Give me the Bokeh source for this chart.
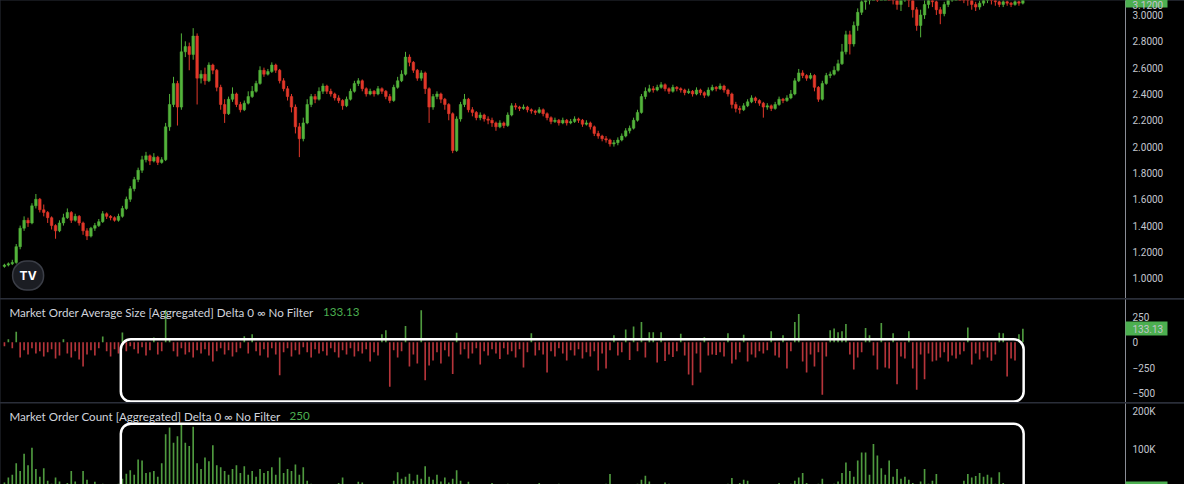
from bokeh.plotting import figure
from bokeh.layouts import column
from bokeh.models import (Range1d, FixedTicker, Label, BoxAnnotation,
                          ColumnDataSource)
from bokeh.embed import file_html
from bokeh.resources import INLINE

# ---------------- data ----------------
OPEN = [
    1.09, 1.10, 1.11, 1.12, 1.24, 1.38, 1.44, 1.42, 1.55, 1.60,
    1.52, 1.50, 1.46, 1.40, 1.36, 1.42, 1.46, 1.50, 1.44, 1.47,
    1.42, 1.36, 1.32, 1.38, 1.40, 1.43, 1.49, 1.47, 1.46, 1.44,
    1.47, 1.53, 1.60, 1.68, 1.75, 1.82, 1.90, 1.93, 1.89, 1.92,
    1.88, 1.90, 2.15, 2.32, 2.48, 2.30, 2.72, 2.76, 2.70, 2.84,
    2.52, 2.55, 2.50, 2.62, 2.58, 2.45, 2.32, 2.25, 2.36, 2.40,
    2.32, 2.28, 2.33, 2.38, 2.42, 2.48, 2.58, 2.55, 2.57, 2.62,
    2.58, 2.50, 2.44, 2.38, 2.30, 2.15, 2.06, 2.18, 2.32, 2.38,
    2.36, 2.42, 2.46, 2.42, 2.40, 2.37, 2.35, 2.31, 2.36, 2.42,
    2.48, 2.50, 2.44, 2.40, 2.42, 2.40, 2.44, 2.42, 2.38, 2.35,
    2.45, 2.50, 2.55, 2.68, 2.64, 2.58, 2.52, 2.56, 2.44, 2.30,
    2.38, 2.40, 2.36, 2.32, 2.25, 1.97, 2.21, 2.32, 2.36, 2.28,
    2.26, 2.22, 2.24, 2.21, 2.20, 2.18, 2.15, 2.18, 2.16, 2.24,
    2.31, 2.30, 2.29, 2.30, 2.28, 2.27, 2.26, 2.28, 2.25, 2.22,
    2.19, 2.20, 2.18, 2.20, 2.18, 2.19, 2.21, 2.20, 2.17, 2.18,
    2.15, 2.10, 2.08, 2.06, 2.05, 2.02, 2.03, 2.05, 2.08, 2.12,
    2.14, 2.20, 2.26, 2.38, 2.42, 2.44, 2.43, 2.45, 2.47, 2.44,
    2.42, 2.45, 2.44, 2.43, 2.41, 2.42, 2.40, 2.43, 2.41, 2.39,
    2.43, 2.45, 2.44, 2.46, 2.43, 2.40, 2.32, 2.29, 2.28, 2.31,
    2.34, 2.37, 2.35, 2.33, 2.30, 2.31, 2.29, 2.32, 2.36, 2.35,
    2.37, 2.40, 2.50, 2.56, 2.54, 2.52, 2.54, 2.45, 2.36, 2.48,
    2.54, 2.55, 2.58, 2.63, 2.72, 2.85, 2.78, 2.92, 3.02, 3.10,
    3.14, 3.18, 3.20, 3.16, 3.19, 3.22, 3.18, 3.15, 3.08, 3.14,
    3.20, 3.14, 3.04, 2.92, 3.00, 3.08, 3.12, 3.10, 3.04, 3.01,
    3.08, 3.12, 3.15, 3.18, 3.16, 3.14, 3.12, 3.08, 3.06, 3.09,
    3.12, 3.14, 3.12, 3.10, 3.08, 3.10, 3.09, 3.08, 3.10, 3.09,
]
HIGH = [
    1.11, 1.12, 1.14, 1.26, 1.40, 1.47, 1.46, 1.57, 1.64, 1.61,
    1.56, 1.51, 1.47, 1.41, 1.44, 1.49, 1.53, 1.51, 1.49, 1.48,
    1.43, 1.38, 1.39, 1.42, 1.45, 1.51, 1.50, 1.48, 1.47, 1.49,
    1.55, 1.62, 1.70, 1.77, 1.84, 1.93, 1.96, 1.94, 1.95, 1.93,
    1.92, 2.18, 2.40, 2.53, 2.50, 2.86, 2.80, 2.79, 2.90, 2.86,
    2.58, 2.60, 2.64, 2.63, 2.59, 2.47, 2.36, 2.38, 2.45, 2.41,
    2.34, 2.35, 2.42, 2.46, 2.50, 2.61, 2.60, 2.59, 2.64, 2.63,
    2.59, 2.52, 2.46, 2.40, 2.32, 2.18, 2.22, 2.36, 2.40, 2.40,
    2.45, 2.48, 2.47, 2.44, 2.41, 2.39, 2.36, 2.38, 2.44, 2.50,
    2.52, 2.51, 2.45, 2.44, 2.43, 2.46, 2.45, 2.43, 2.40, 2.47,
    2.53, 2.58, 2.72, 2.70, 2.65, 2.59, 2.58, 2.57, 2.45, 2.40,
    2.42, 2.41, 2.37, 2.33, 2.26, 2.23, 2.34, 2.40, 2.37, 2.30,
    2.27, 2.26, 2.25, 2.23, 2.22, 2.19, 2.20, 2.19, 2.26, 2.33,
    2.33, 2.31, 2.32, 2.31, 2.29, 2.28, 2.30, 2.29, 2.26, 2.23,
    2.22, 2.21, 2.22, 2.21, 2.21, 2.23, 2.22, 2.21, 2.20, 2.19,
    2.16, 2.12, 2.09, 2.08, 2.06, 2.05, 2.07, 2.10, 2.14, 2.16,
    2.22, 2.28, 2.40, 2.45, 2.47, 2.46, 2.47, 2.49, 2.48, 2.45,
    2.47, 2.46, 2.45, 2.44, 2.44, 2.43, 2.45, 2.44, 2.42, 2.45,
    2.47, 2.46, 2.48, 2.47, 2.44, 2.41, 2.34, 2.31, 2.33, 2.36,
    2.39, 2.38, 2.36, 2.34, 2.33, 2.32, 2.34, 2.38, 2.37, 2.39,
    2.43, 2.52, 2.59, 2.58, 2.55, 2.56, 2.55, 2.46, 2.50, 2.56,
    2.57, 2.61, 2.66, 2.78, 2.88, 2.88, 2.95, 3.05, 3.14, 3.18,
    3.22, 3.24, 3.22, 3.22, 3.25, 3.24, 3.20, 3.16, 3.17, 3.22,
    3.21, 3.15, 3.06, 3.04, 3.12, 3.15, 3.14, 3.11, 3.06, 3.10,
    3.15, 3.18, 3.21, 3.20, 3.18, 3.16, 3.13, 3.10, 3.11, 3.14,
    3.17, 3.15, 3.13, 3.11, 3.12, 3.11, 3.10, 3.12, 3.11, 3.14,
]
LOW = [
    1.08, 1.09, 1.10, 1.11, 1.22, 1.36, 1.39, 1.41, 1.53, 1.50,
    1.47, 1.42, 1.37, 1.30, 1.35, 1.40, 1.45, 1.42, 1.43, 1.40,
    1.33, 1.29, 1.31, 1.36, 1.39, 1.42, 1.45, 1.44, 1.43, 1.43,
    1.46, 1.52, 1.58, 1.66, 1.73, 1.80, 1.88, 1.86, 1.88, 1.86,
    1.87, 1.89, 2.12, 2.30, 2.16, 2.28, 2.68, 2.58, 2.66, 2.32,
    2.48, 2.47, 2.49, 2.55, 2.42, 2.28, 2.18, 2.24, 2.34, 2.30,
    2.26, 2.27, 2.32, 2.37, 2.41, 2.47, 2.53, 2.54, 2.56, 2.56,
    2.48, 2.42, 2.35, 2.26, 2.10, 1.92, 2.04, 2.17, 2.30, 2.33,
    2.35, 2.40, 2.40, 2.38, 2.35, 2.33, 2.28, 2.30, 2.35, 2.41,
    2.46, 2.42, 2.38, 2.39, 2.38, 2.39, 2.40, 2.36, 2.33, 2.34,
    2.44, 2.49, 2.54, 2.61, 2.56, 2.50, 2.50, 2.40, 2.18, 2.28,
    2.36, 2.33, 2.28, 2.20, 1.95, 1.96, 2.19, 2.30, 2.26, 2.23,
    2.20, 2.20, 2.19, 2.17, 2.15, 2.12, 2.14, 2.14, 2.15, 2.23,
    2.28, 2.27, 2.28, 2.26, 2.25, 2.24, 2.25, 2.23, 2.20, 2.17,
    2.18, 2.16, 2.17, 2.16, 2.17, 2.18, 2.18, 2.15, 2.16, 2.13,
    2.08, 2.06, 2.04, 2.03, 2.00, 2.00, 2.01, 2.04, 2.07, 2.10,
    2.13, 2.19, 2.25, 2.36, 2.41, 2.41, 2.42, 2.44, 2.42, 2.40,
    2.41, 2.42, 2.41, 2.39, 2.40, 2.38, 2.39, 2.39, 2.37, 2.38,
    2.42, 2.42, 2.43, 2.41, 2.38, 2.29, 2.26, 2.25, 2.27, 2.30,
    2.33, 2.33, 2.31, 2.22, 2.28, 2.27, 2.28, 2.31, 2.33, 2.34,
    2.36, 2.39, 2.49, 2.52, 2.50, 2.51, 2.42, 2.34, 2.35, 2.47,
    2.52, 2.54, 2.57, 2.62, 2.70, 2.70, 2.76, 2.88, 3.00, 3.04,
    3.08, 3.12, 3.10, 3.12, 3.15, 3.12, 3.08, 3.04, 3.03, 3.10,
    3.06, 2.98, 2.88, 2.83, 2.97, 3.05, 3.06, 3.00, 2.93, 2.99,
    3.06, 3.10, 3.12, 3.11, 3.09, 3.07, 3.04, 3.03, 3.04, 3.07,
    3.09, 3.08, 3.07, 3.06, 3.06, 3.07, 3.06, 3.07, 3.07, 3.08,
]
CLOSE = [
    1.10, 1.11, 1.12, 1.24, 1.38, 1.44, 1.42, 1.55, 1.60, 1.52,
    1.50, 1.46, 1.40, 1.36, 1.42, 1.46, 1.50, 1.44, 1.47, 1.42,
    1.36, 1.32, 1.38, 1.40, 1.43, 1.49, 1.47, 1.46, 1.44, 1.47,
    1.53, 1.60, 1.68, 1.75, 1.82, 1.90, 1.93, 1.89, 1.92, 1.88,
    1.90, 2.15, 2.32, 2.48, 2.30, 2.72, 2.76, 2.70, 2.84, 2.52,
    2.55, 2.50, 2.62, 2.58, 2.45, 2.32, 2.25, 2.36, 2.40, 2.32,
    2.28, 2.33, 2.38, 2.42, 2.48, 2.58, 2.55, 2.57, 2.62, 2.58,
    2.50, 2.44, 2.38, 2.30, 2.15, 2.06, 2.18, 2.32, 2.38, 2.36,
    2.42, 2.46, 2.42, 2.40, 2.37, 2.35, 2.31, 2.36, 2.42, 2.48,
    2.50, 2.44, 2.40, 2.42, 2.40, 2.44, 2.42, 2.38, 2.35, 2.45,
    2.50, 2.55, 2.68, 2.64, 2.58, 2.52, 2.56, 2.44, 2.30, 2.38,
    2.40, 2.36, 2.32, 2.25, 1.97, 2.21, 2.32, 2.36, 2.28, 2.26,
    2.22, 2.24, 2.21, 2.20, 2.18, 2.15, 2.18, 2.16, 2.24, 2.31,
    2.30, 2.29, 2.30, 2.28, 2.27, 2.26, 2.28, 2.25, 2.22, 2.19,
    2.20, 2.18, 2.20, 2.18, 2.19, 2.21, 2.20, 2.17, 2.18, 2.15,
    2.10, 2.08, 2.06, 2.05, 2.02, 2.03, 2.05, 2.08, 2.12, 2.14,
    2.20, 2.26, 2.38, 2.42, 2.44, 2.43, 2.45, 2.47, 2.44, 2.42,
    2.45, 2.44, 2.43, 2.41, 2.42, 2.40, 2.43, 2.41, 2.39, 2.43,
    2.45, 2.44, 2.46, 2.43, 2.40, 2.32, 2.29, 2.28, 2.31, 2.34,
    2.37, 2.35, 2.33, 2.30, 2.31, 2.29, 2.32, 2.36, 2.35, 2.37,
    2.40, 2.50, 2.56, 2.54, 2.52, 2.54, 2.45, 2.36, 2.48, 2.54,
    2.55, 2.58, 2.63, 2.72, 2.85, 2.78, 2.92, 3.02, 3.10, 3.14,
    3.18, 3.20, 3.16, 3.19, 3.22, 3.18, 3.15, 3.08, 3.14, 3.20,
    3.14, 3.04, 2.92, 3.00, 3.08, 3.12, 3.10, 3.04, 3.01, 3.08,
    3.12, 3.15, 3.18, 3.16, 3.14, 3.12, 3.08, 3.06, 3.09, 3.12,
    3.14, 3.12, 3.10, 3.08, 3.10, 3.09, 3.08, 3.10, 3.09, 3.12,
]
AVG_SIZE = [
    -40, 30, -60, 105, -150, -80, -120, -60, -110, -90,
    -140, -100, -70, -160, -130, 30, -110, -150, -90, -170,
    -240, -120, -80, -130, -60, 58, -90, -140, -70, -110,
    96, -90, -40, -70, -110, -50, -130, -80, 48, -120,
    -90, 320, 40, -90, -140, -60, -120, -100, -150, -80,
    -110, -70, -130, -190, -90, -60, -120, -80, -140, -100,
    -60, 60, -110, 80, -90, -130, -70, -150, -60, -120,
    -326, -100, -60, -140, -80, -120, -50, -100, -150, -70,
    -110, -90, -130, -60, -100, -150, -80, -120, -60, -140,
    -90, -110, -70, -190, -100, -130, 80, 120, -440, -80,
    -150, -90, 160, -240, -120, -210, 317, -375, -230, -180,
    -100, -210, -80, -140, -315, 93, -120, -70, -160, -110,
    -60, -220, -90, -130, -70, -110, -165, -60, -120, -90,
    -150, -70, -250, -100, 90, -130, -80, -120, -300, -90,
    -140, -60, -110, -180, -80, -130, -70, -160, -100, -140,
    -90, -280, -110, -260, -80, 70, -130, -100, 125, -175,
    155, -90, 200, -150, 100, 100, -200, 100, -185, -120,
    -145, -90, 85, -130, -320, -425, -110, -300, 50, -130,
    -120, -125, -100, -140, 90, -210, -170, -100, 75, -190,
    -120, -150, -90, -110, -80, 110, -130, -150, 70, -260,
    -90, 200, 280, -190, -300, -120, -240, -100, -520, -140,
    120, 135, 100, 110, 180, -120, -270, -150, -100, 140,
    70, -130, -270, 190, -250, -260, 90, -415, -140, -160,
    110, -260, -470, -120, -365, -110, -190, -180, -150, -100,
    -190, -130, -160, -120, -90, 145, -220, -110, -170, -90,
    -150, -182, -120, 95, 90, -340, -160, -180, 80, 133.13,
]
COUNT_K = [
    15, 28, 35, 65, 45, 90, 60, 105, 50, 30,
    52, 20, 12, 28, 18, 10, 14, 45, 18, 10,
    45, 22, 8, 17, 8, 12, 6, 10, 8, 12,
    25, 38, 47, 35, 75, 72, 40, 42, 45, 30,
    65, 140, 158, 118, 135, 165, 118, 110, 160, 65,
    50, 80, 70, 112, 60, 55, 45, 35, 50, 60,
    40, 57, 35, 45, 30, 50, 40, 45, 55, 35,
    80, 40, 50, 45, 62, 35, 55, 20, 12, 8,
    10, 6, 8, 5, 10, 14, 28, 8, 6, 5,
    17, 15, 6, 4, 8, 5, 6, 10, 7, 20,
    42, 25, 30, 38, 20, 35, 25, 57, 30, 22,
    35, 18, 28, 15, 25, 47, 20, 10, 17, 8,
    6, 10, 5, 8, 14, 6, 4, 8, 12, 5,
    7, 4, 9, 5, 8, 4, 14, 6, 5, 8,
    4, 12, 6, 4, 7, 5, 9, 4, 6, 5,
    8, 6, 10, 12, 37, 8, 6, 10, 5, 8,
    6, 12, 22, 33, 18, 8, 6, 10, 15, 12,
    5, 4, 6, 4, 5, 7, 4, 5, 6, 4,
    5, 6, 4, 8, 12, 27, 10, 14, 22, 20,
    10, 6, 5, 4, 6, 8, 10, 14, 8, 6,
    12, 20, 28, 40, 14, 8, 10, 12, 25, 8,
    6, 12, 18, 40, 67, 45, 30, 72, 93, 93,
    35, 115, 85, 52, 35, 72, 30, 50, 25, 30,
    22, 14, 10, 18, 50, 12, 20, 37, 10, 6,
    8, 5, 10, 8, 20, 37, 28, 32, 40, 30,
    35, 28, 12, 42, 14, 6, 5, 4, 3, 0.25,
]
PRICE_TICKS = [1.0, 1.2, 1.4, 1.6, 1.8, 2.0, 2.2, 2.4, 2.6, 2.8, 3.0]
AVG_TICKS = [-500, -250, 0, 250]
COUNT_TICKS = [100000, 200000]
AVG_LEGEND = "Market Order Average Size [Aggregated] Delta 0 \u221e No Filter"
COUNT_LEGEND = "Market Order Count [Aggregated] Delta 0 \u221e No Filter"
AVG_LAST_TEXT = "133.13"
COUNT_LAST_TEXT = "250"

N = len(CLOSE)
assert all(len(a) == N for a in (OPEN, HIGH, LOW, AVG_SIZE, COUNT_K))
COUNT = [v * 1000 for v in COUNT_K]
X = list(range(N))

# ---------------- style ----------------
BG = "#000000"
UP = "#53b33b"
DOWN = "#e2382a"
IND_UP = "#4f9a3f"
IND_DOWN = "#b5343a"
SEP = "#2a2e39"
AXIS_LINE = "#8a8d96"
LABEL = "#c3c6ce"
TEXT = "#d1d4dc"
TAG = "#4caf50"

FRAME_W = 1125
AXIS_W = 59
H_PRICE, H_AVG, H_CNT = 298, 103, 81
PRICE_LO, PRICE_HI = 0.846, 3.110
AVG_LO, AVG_HI = -596, 423
CNT_LO, CNT_HI = 10000, 220000
TAG_W = 42          # width of the value tag drawn on the price scale
LABEL_GAP = 7       # gap between scale line and its labels

x_range = Range1d(-1.0, 285.1)


def make_fig(h, y0, y1, ticks, tag, overrides, tag_h=14):
    """Panel with a right price scale; the last-value tag is drawn on the
    scale as a wide green minor tick with its label on top of it."""
    p = figure(frame_width=FRAME_W, frame_height=h, x_range=x_range,
               y_range=Range1d(y0, y1), output_backend="svg",
               toolbar_location=None, x_axis_location=None,
               y_axis_location="right",
               min_border_left=0, min_border_right=AXIS_W,
               min_border_top=0, min_border_bottom=0,
               background_fill_color=BG, border_fill_color=BG,
               outline_line_color=None)
    p.grid.visible = False
    ax = p.yaxis[0]
    major = list(ticks) + ([tag] if tag in overrides else [])
    ax.ticker = FixedTicker(ticks=major, minor_ticks=[tag])
    ax.major_label_overrides = overrides
    ax.axis_line_color = AXIS_LINE
    ax.major_tick_line_color = None
    ax.major_tick_out = 0
    ax.major_tick_in = 0
    ax.minor_tick_in = 0
    ax.minor_tick_out = TAG_W
    ax.minor_tick_line_width = tag_h
    ax.minor_tick_line_color = TAG
    # labels sit LABEL_GAP px right of the scale line, on top of the tag
    ax.major_label_standoff = LABEL_GAP - TAG_W
    ax.major_label_text_color = LABEL
    ax.major_label_text_font = "Roboto"
    ax.major_label_text_font_size = "10px"
    return p


# ---------------- price panel ----------------
price_tag = min(CLOSE[-1], PRICE_HI)          # clamp to the visible scale
price_labels = {t: "%.4f" % t for t in PRICE_TICKS}
price_labels[price_tag] = "%.4f" % CLOSE[-1]
p1 = make_fig(H_PRICE, PRICE_LO, PRICE_HI, PRICE_TICKS, price_tag,
              price_labels)
colors = [UP if c >= o else DOWN for o, c in zip(OPEN, CLOSE)]
src = ColumnDataSource(dict(x=X, open=OPEN, high=HIGH, low=LOW, close=CLOSE,
                            color=colors))
p1.segment(x0="x", y0="low", x1="x", y1="high", line_color="color",
           line_width=1, source=src)
p1.vbar(x="x", width=0.66, top="open", bottom="close", fill_color="color",
        line_color="color", line_width=0.5, source=src)
p1.add_layout(Label(x=27.6, y=23, x_units="screen", y_units="screen",
                    text="TV", text_color="#ffffff", text_font="Inter",
                    text_font_style="bold", text_font_size="12px",
                    text_align="center", text_baseline="middle",
                    background_fill_color="#1b1d23",
                    border_line_color="#3b3e47", border_line_width=1.5,
                    padding=7, border_radius=14))

# ---------------- average size panel ----------------
avg_labels = {-500: "\u2212500", -250: "\u2212250", 0: "0", 250: "250",
              AVG_SIZE[-1]: AVG_LAST_TEXT}
p2 = make_fig(H_AVG, AVG_LO, AVG_HI, AVG_TICKS, AVG_SIZE[-1], avg_labels)
avg_colors = [IND_UP if v >= 0 else IND_DOWN for v in AVG_SIZE]
src2 = ColumnDataSource(dict(x=X, top=AVG_SIZE, color=avg_colors))
p2.vbar(x="x", width=0.42, top="top", bottom=0, fill_color="color",
        line_color=None, source=src2)
p2.add_layout(BoxAnnotation(left=29.6, right=259.2, top=29, bottom=-587,
                            fill_alpha=0, line_color="#ffffff", line_alpha=1,
                            line_width=2.5, border_radius=10))
p2.add_layout(Label(x=8.9, y=H_AVG - 12.6, x_units="screen", y_units="screen",
                    text=AVG_LEGEND, text_color=TEXT, text_font="Lato",
                    text_font_size="11.6px", text_baseline="middle"))
p2.add_layout(Label(x=322.6, y=H_AVG - 12.6, x_units="screen",
                    y_units="screen", text=AVG_LAST_TEXT, text_color=TAG,
                    text_font="Lato", text_font_size="11.6px",
                    text_baseline="middle"))

# ---------------- count panel ----------------
cnt_tag = max(COUNT[-1], CNT_LO)               # clamp to the visible scale
p3 = make_fig(H_CNT, CNT_LO, CNT_HI, COUNT_TICKS, cnt_tag,
              {100000: "100K", 200000: "200K"}, tag_h=6)
src3 = ColumnDataSource(dict(x=X, top=COUNT))
p3.vbar(x="x", width=0.42, top="top", bottom=0, fill_color=IND_UP,
        line_color=None, source=src3)
p3.add_layout(BoxAnnotation(left=29.6, right=259.2, top=167500, bottom=-30000,
                            fill_alpha=0, line_color="#ffffff", line_alpha=1,
                            line_width=2.5, border_radius=10))
p3.add_layout(Label(x=8.9, y=H_CNT - 12.6, x_units="screen", y_units="screen",
                    text=COUNT_LEGEND, text_color=TEXT, text_font="Lato",
                    text_font_size="11.6px", text_baseline="middle"))
p3.add_layout(Label(x=289, y=H_CNT - 12.6, x_units="screen",
                    y_units="screen", text=COUNT_LAST_TEXT, text_color=TAG,
                    text_font="Lato", text_font_size="11.6px",
                    text_baseline="middle"))

layout = column(p1, p2, p3, spacing=1, styles={"background-color": SEP})

open("out.html", "w").write(file_html(layout, INLINE))
